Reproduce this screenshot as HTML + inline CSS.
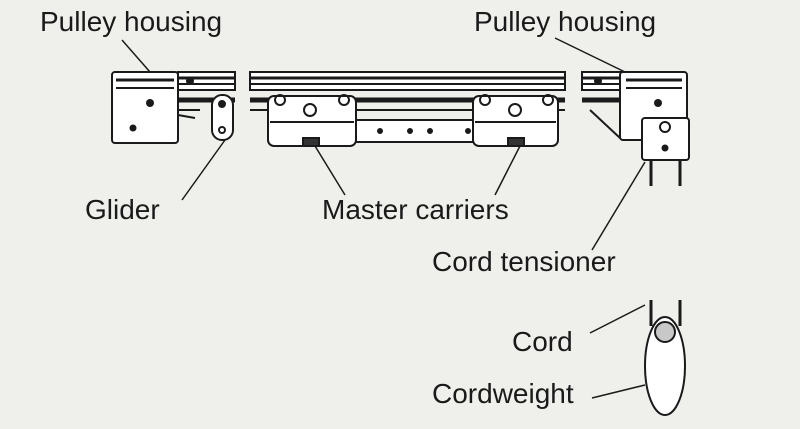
<!DOCTYPE html>
<html><head><style>
html,body{margin:0;padding:0;background:#efefeb;}
svg{display:block;}
text{font-family:"Liberation Sans",sans-serif;font-size:28px;fill:#1a1a1a;}
</style></head><body>
<svg width="800" height="429" viewBox="0 0 800 429" xmlns="http://www.w3.org/2000/svg">
<rect width="800" height="429" fill="#efefeb"/>
<g stroke="#1a1a1a" stroke-width="2" fill="none">
<rect x="178" y="72" width="57" height="18" fill="#fff"/>
<rect x="250" y="72" width="315" height="18" fill="#fff"/>
<rect x="582" y="72" width="40" height="18" fill="#fff"/>
<line x1="178" y1="78" x2="235" y2="78" stroke-width="3"/>
<line x1="250" y1="78" x2="565" y2="78" stroke-width="3"/>
<line x1="582" y1="78" x2="622" y2="78" stroke-width="3"/>
<line x1="178" y1="84" x2="235" y2="84"/>
<line x1="250" y1="84" x2="565" y2="84"/>
<line x1="582" y1="84" x2="622" y2="84"/>
<line x1="178" y1="100" x2="235" y2="100" stroke-width="5"/>
<line x1="250" y1="100" x2="565" y2="100" stroke-width="5"/>
<line x1="582" y1="100" x2="622" y2="100" stroke-width="5"/>
<line x1="250" y1="110" x2="565" y2="110"/>
<rect x="355" y="120" width="118" height="22" fill="#fff"/>
<rect x="112" y="72" width="66" height="71" rx="3" fill="#fff"/>
<line x1="116" y1="80" x2="174" y2="80" stroke-width="3"/>
<line x1="116" y1="88" x2="174" y2="88"/>
<line x1="178" y1="110" x2="200" y2="110"/>
<line x1="178" y1="115" x2="195" y2="118"/>
<rect x="212" y="95" width="21" height="45" rx="10" fill="#fff"/>
<circle cx="222" cy="104" r="3" fill="#1a1a1a"/>
<circle cx="222" cy="130" r="3"/>
<rect x="268" y="96" width="88" height="50" rx="6" fill="#fff"/>
<line x1="270" y1="122" x2="354" y2="122"/>
<circle cx="310" cy="110" r="6"/>
<circle cx="280" cy="100" r="5"/>
<circle cx="344" cy="100" r="5"/>
<rect x="303" y="138" width="16" height="8" fill="#333"/>
<rect x="473" y="96" width="85" height="50" rx="6" fill="#fff"/>
<line x1="475" y1="122" x2="556" y2="122"/>
<circle cx="515" cy="110" r="6"/>
<circle cx="485" cy="100" r="5"/>
<circle cx="548" cy="100" r="5"/>
<rect x="508" y="138" width="16" height="8" fill="#333"/>
<circle cx="380" cy="131" r="2" fill="#1a1a1a"/>
<circle cx="410" cy="131" r="2" fill="#1a1a1a"/>
<circle cx="430" cy="131" r="2" fill="#1a1a1a"/>
<circle cx="468" cy="131" r="2" fill="#1a1a1a"/>
<path d="M590 110 L620 138 L642 138" />
<rect x="620" y="72" width="67" height="68" rx="3" fill="#fff"/>
<line x1="626" y1="80" x2="682" y2="80" stroke-width="3"/>
<line x1="626" y1="88" x2="682" y2="88"/>
<rect x="642" y="118" width="47" height="42" rx="3" fill="#fff"/>
<line x1="651" y1="160" x2="651" y2="186" stroke-width="3"/>
<line x1="680" y1="160" x2="680" y2="186" stroke-width="3"/>
<circle cx="665" cy="127" r="5"/>
<line x1="651" y1="300" x2="651" y2="326" stroke-width="3"/>
<line x1="680" y1="300" x2="680" y2="326" stroke-width="3"/>
<ellipse cx="665" cy="366" rx="20" ry="49" fill="#fff"/>
<circle cx="665" cy="332" r="10" fill="#c8c8c8"/>
<line x1="122" y1="40" x2="150" y2="72" stroke-width="1.5"/>
<line x1="555" y1="38" x2="625" y2="72" stroke-width="1.5"/>
<line x1="225" y1="140" x2="182" y2="200" stroke-width="1.5"/>
<line x1="315" y1="146" x2="345" y2="195" stroke-width="1.5"/>
<line x1="520" y1="146" x2="495" y2="195" stroke-width="1.5"/>
<line x1="645" y1="162" x2="592" y2="250" stroke-width="1.5"/>
<line x1="590" y1="333" x2="645" y2="305" stroke-width="1.5"/>
<line x1="592" y1="398" x2="645" y2="385" stroke-width="1.5"/>
</g>
<g fill="#1a1a1a" stroke="none">
<circle cx="150" cy="103" r="4"/><circle cx="133" cy="128" r="3.5"/>
<circle cx="658" cy="103" r="4"/><circle cx="665" cy="148" r="3.5"/>
<circle cx="190" cy="81" r="4"/><circle cx="598" cy="81" r="4"/>
</g>
<text x="40" y="31">Pulley housing</text>
<text x="474" y="31">Pulley housing</text>
<text x="85" y="219">Glider</text>
<text x="322" y="219">Master carriers</text>
<text x="432" y="271">Cord tensioner</text>
<text x="512" y="351">Cord</text>
<text x="432" y="403">Cordweight</text>
</svg>
</body></html>
